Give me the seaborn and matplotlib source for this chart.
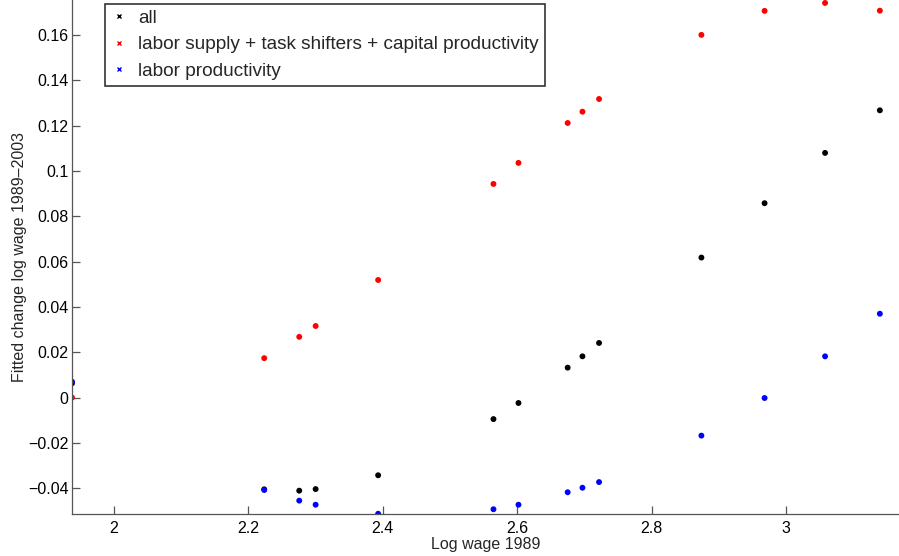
import numpy as np
import pandas as pd
import seaborn as sns
import matplotlib
matplotlib.use('Agg')
import matplotlib.pyplot as plt
from matplotlib.lines import Line2D

# log wage 1989 per group
log_wage = [1.9375, 2.2235, 2.2756, 2.300, 2.393, 2.5646, 2.6018,
            2.675, 2.697, 2.7217, 2.874, 2.968, 3.058, 3.1395]

# fitted change log wage 1989-2003
all_effects = [0.0063, -0.0405, -0.0411, -0.0404, -0.0343, -0.0095, -0.0024,
               0.0132, 0.0182, 0.0241, 0.0618, 0.0858, 0.1080, 0.1268]
supply_task_capital = [0.0000, 0.0174, 0.0268, 0.0316, 0.0519, 0.0943, 0.1036,
                       0.1212, 0.1262, 0.1318, 0.1601, 0.1707, 0.1742, 0.1708]
labor_prod = [0.0070, -0.0408, -0.0455, -0.0473, -0.0513, -0.0493, -0.0473,
              -0.0418, -0.0398, -0.0373, -0.0168, -0.0002, 0.0182, 0.0370]

series_names = ['all',
                'labor supply + task shifters + capital productivity',
                'labor productivity']
series_colors = ['black', 'red', 'blue']

df = pd.concat([
    pd.DataFrame({'x': log_wage, 'y': all_effects, 'series': series_names[0]}),
    pd.DataFrame({'x': log_wage, 'y': supply_task_capital, 'series': series_names[1]}),
    pd.DataFrame({'x': log_wage, 'y': labor_prod, 'series': series_names[2]}),
], ignore_index=True)

sns.set_style('white')
plt.rcParams['font.family'] = ['Liberation Sans', 'DejaVu Sans']

fig = plt.figure(figsize=(8.99, 5.56), dpi=100)
ax = fig.add_axes([72 / 899, 42 / 556, 827 / 899, 514 / 556])

sns.scatterplot(data=df, x='x', y='y', hue='series', hue_order=series_names,
                palette=dict(zip(series_names, series_colors)), s=18,
                linewidth=0, legend=False, ax=ax)

ax.set_xlim(1.9375, 3.168)
ax.set_ylim(-0.0514, 0.1755)
ax.set_xticks([2, 2.2, 2.4, 2.6, 2.8, 3])
ax.set_xticklabels(['2', '2.2', '2.4', '2.6', '2.8', '3'])
ax.set_yticks([-0.04, -0.02, 0, 0.02, 0.04, 0.06, 0.08, 0.1, 0.12, 0.14, 0.16])
ax.set_yticklabels(['\u22120.04', '\u22120.02', '0', '0.02', '0.04', '0.06',
                    '0.08', '0.1', '0.12', '0.14', '0.16'])
ax.tick_params(bottom=True, left=True, direction='in', length=6, width=0.9,
               color='#555555', labelsize=11.5, labelcolor='black')
ax.tick_params(axis='y', pad=2.5)
ax.tick_params(axis='x', pad=5)

for side in ['top', 'right']:
    ax.spines[side].set_visible(False)
for side in ['left', 'bottom']:
    ax.spines[side].set_color('#555555')
    ax.spines[side].set_linewidth(0.9)

ax.set_xlabel('Log wage 1989', fontsize=11.5, labelpad=1)
ax.set_ylabel('Fitted change log wage 1989\u20132003', fontsize=11.5, labelpad=0.5)

handles = [Line2D([], [], linestyle='none', marker='x', markersize=2.5,
                  markeredgewidth=1, color=c) for c in series_colors]
leg = ax.legend(handles, series_names, loc='upper left',
                bbox_to_anchor=(33 / 827, 510 / 514), borderaxespad=0,
                fontsize=13.7, frameon=True, fancybox=False,
                handlelength=0.9, handletextpad=0.55, labelspacing=0.48,
                borderpad=0.3)
leg.get_frame().set_edgecolor('black')
leg.get_frame().set_linewidth(1.2)

fig.savefig('out.png', dpi=100)
